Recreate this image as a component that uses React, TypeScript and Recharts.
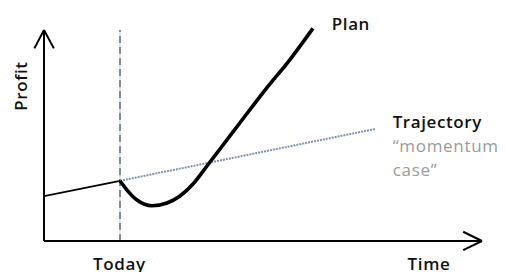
import React from "react";
import { LineChart, Line, XAxis, YAxis, ReferenceLine, ReferenceDot } from "recharts";

// Time units 0..100, profit units 0..100
const historyTime = [0, 17.35];
const historyProfit = [20.9, 28.0];

const planTime = [17.35, 18.95, 21.23, 24.66, 28.08, 31.05, 34.02, 37.21, 40.18, 44.75, 50.46, 56.16, 61.4];
const planProfit = [28.0, 23.7, 19.07, 16.42, 17.67, 20.93, 26.51, 34.88, 42.79, 55.0, 70.2, 84.4, 98.9];

const trajectoryTime = [17.35, 75.6];
const trajectoryProfit = [28.0, 52.1];

const todayTime = 17.35;
const axisTop = 98.1;

const zip = (ts: number[], vs: number[]) => ts.map((t, i) => ({ t, v: vs[i] }));
const historyData = zip(historyTime, historyProfit);
const planData = zip(planTime, planProfit);
const trajectoryData = zip(trajectoryTime, trajectoryProfit);

const FONT = "'Open Sans', sans-serif";

type Lbl = { t: number; v: number; text: string; anchor: string; color: string; weight: number; spacing: number; rotate?: boolean };
const labels: Lbl[] = [
  { t: 65.7, v: 98.1, text: "Plan", anchor: "start", color: "#111", weight: 600, spacing: 0.6 },
  { t: 79.6, v: 52.6, text: "Trajectory", anchor: "start", color: "#111", weight: 600, spacing: 0.6 },
  { t: 79.6, v: 41.4, text: "\u201Cmomentum", anchor: "start", color: "#9a9a9a", weight: 400, spacing: 0.7 },
  { t: 79.6, v: 30.2, text: "case\u201D", anchor: "start", color: "#9a9a9a", weight: 400, spacing: 0.7 },
  { t: 17.2, v: -13.3, text: "Today", anchor: "middle", color: "#111", weight: 600, spacing: 0.6 },
  { t: 87.9, v: -13.3, text: "Time", anchor: "middle", color: "#111", weight: 600, spacing: 0.6 },
  { t: -3.9, v: 72.1, text: "Profit", anchor: "middle", color: "#111", weight: 600, spacing: 0.6, rotate: true },
];

export default function App() {
  return (
    <div style={{ position: "absolute", left: 0, top: 0 }}>
      <LineChart width={505} height={272} margin={{ top: 26, right: 23, bottom: 31, left: 44 }}>
        <XAxis type="number" dataKey="t" domain={[0, 100]} hide allowDataOverflow />
        <YAxis type="number" dataKey="v" domain={[0, 100]} hide allowDataOverflow />

        {/* today marker */}
        <ReferenceLine segment={[{ x: todayTime, y: 0 }, { x: todayTime, y: axisTop }]} stroke="#b3d4ee" strokeWidth={1} ifOverflow="visible" />
        <ReferenceLine segment={[{ x: todayTime, y: 0 }, { x: todayTime, y: axisTop }]} stroke="#8a8a8a" strokeWidth={2} strokeDasharray="7 4" ifOverflow="visible" />

        {/* axes with arrows */}
        <ReferenceLine segment={[{ x: 0, y: 0 }, { x: 0, y: axisTop }]} stroke="#000" strokeWidth={2} ifOverflow="visible" />
        <ReferenceLine segment={[{ x: -2.2, y: 89.6 }, { x: 0, y: axisTop }]} stroke="#000" strokeWidth={2} ifOverflow="visible" />
        <ReferenceLine segment={[{ x: 2.25, y: 89.6 }, { x: 0, y: axisTop }]} stroke="#000" strokeWidth={2} ifOverflow="visible" />
        <ReferenceLine segment={[{ x: 0, y: 0 }, { x: 100, y: 0 }]} stroke="#000" strokeWidth={2} ifOverflow="visible" />
        <ReferenceLine segment={[{ x: 95.7, y: 4.3 }, { x: 100, y: 0 }]} stroke="#000" strokeWidth={2} ifOverflow="visible" />
        <ReferenceLine segment={[{ x: 95.7, y: -4.2 }, { x: 100, y: 0 }]} stroke="#000" strokeWidth={2} ifOverflow="visible" />

        <Line data={trajectoryData} dataKey="v" type="linear" stroke="#7f93ab" strokeWidth={2} strokeDasharray="2 1" dot={false} isAnimationActive={false} />
        <Line data={historyData} dataKey="v" type="linear" stroke="#000" strokeWidth={1.8} dot={false} isAnimationActive={false} />
        <Line data={planData} dataKey="v" type="monotone" stroke="#000" strokeWidth={3.6} dot={false} isAnimationActive={false} />

        {labels.map((l) => (
          <ReferenceDot
            key={l.text}
            x={l.t}
            y={l.v}
            r={0}
            ifOverflow="visible"
            shape={(p: any) => (
              <text
                x={p.cx}
                y={p.cy}
                textAnchor={l.anchor as any}
                fill={l.color}
                fontFamily={FONT}
                fontWeight={l.weight}
                fontSize={17}
                letterSpacing={l.spacing}
                transform={l.rotate ? `rotate(-90 ${p.cx} ${p.cy})` : undefined}
              >
                {l.text}
              </text>
            )}
          />
        ))}
      </LineChart>
    </div>
  );
}
